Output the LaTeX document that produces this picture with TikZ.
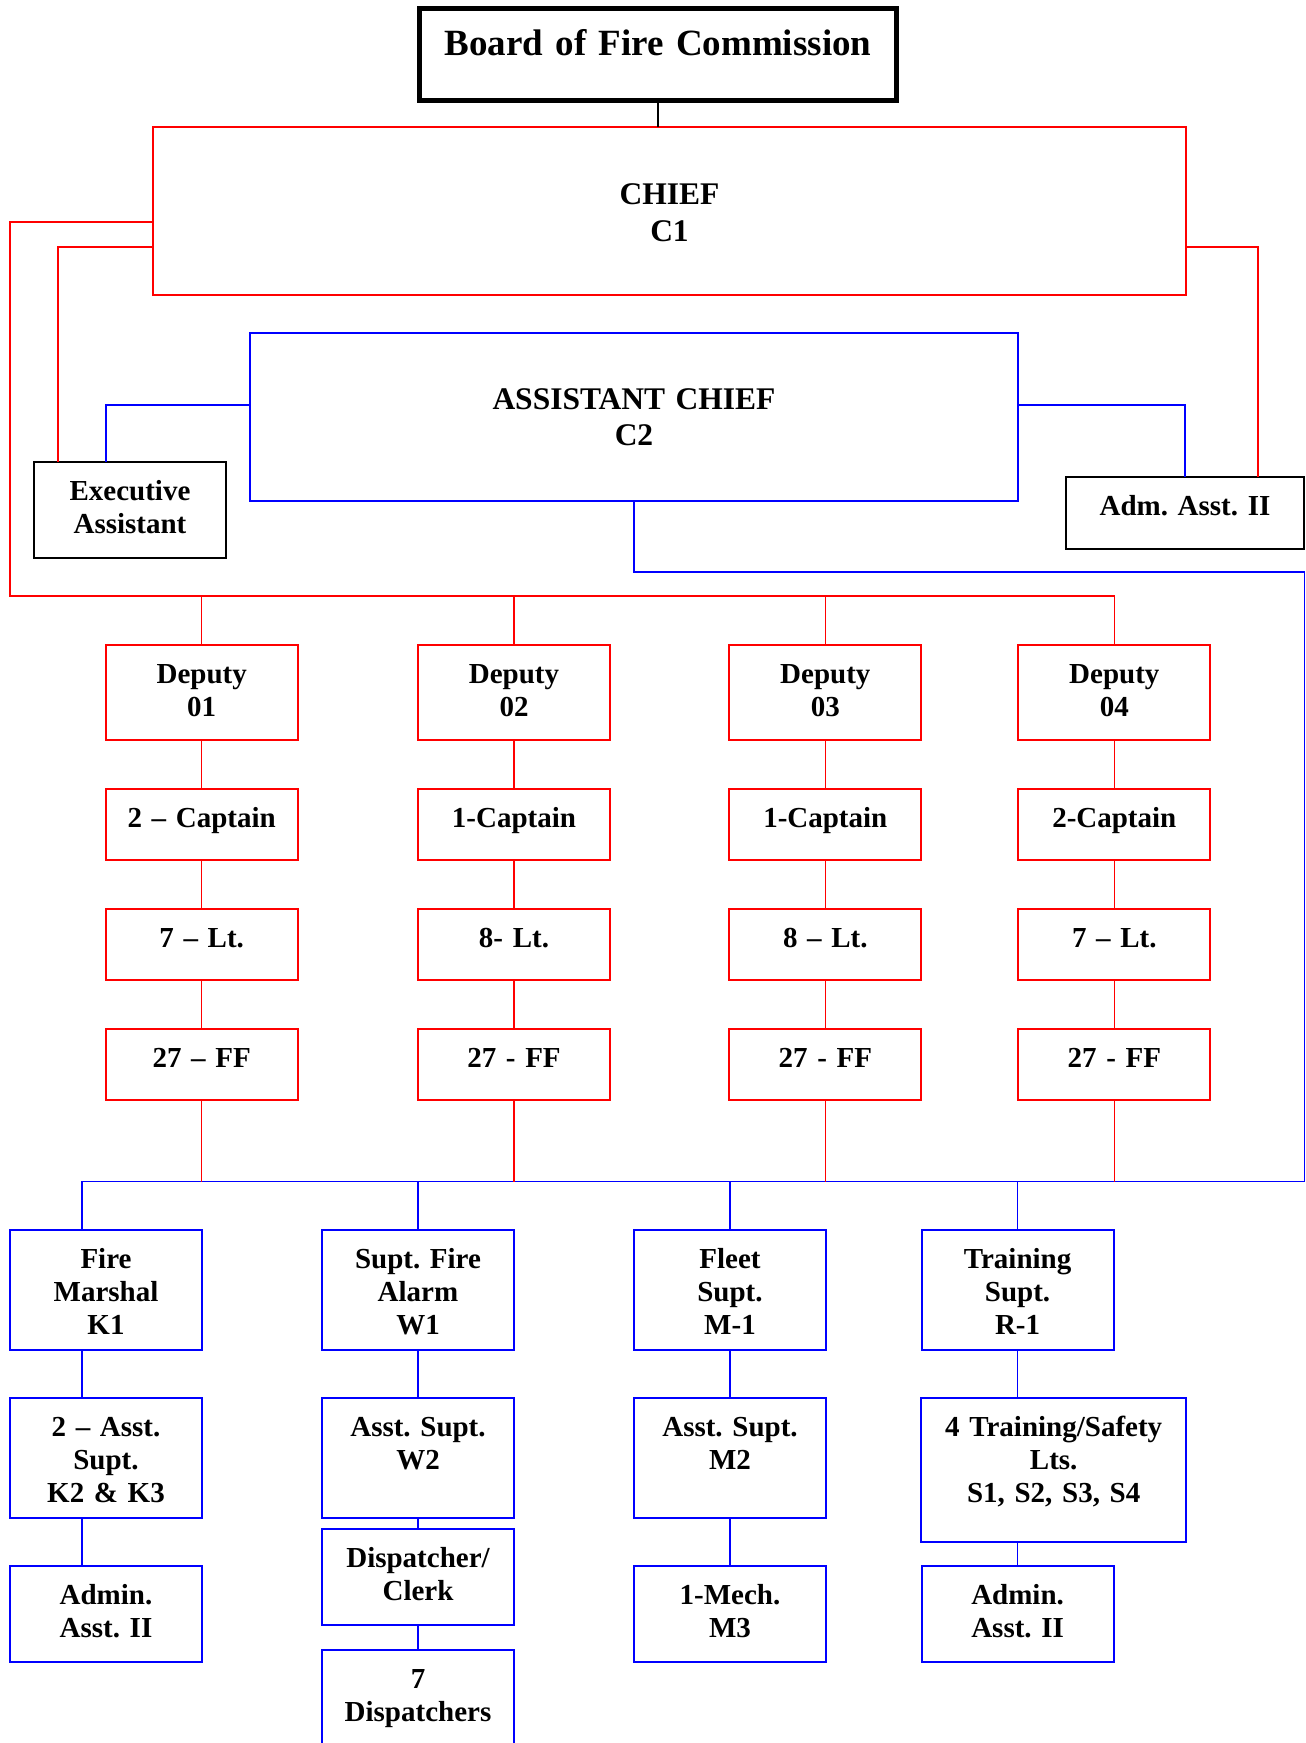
\documentclass[tikz,border=0pt]{standalone}
\usepackage{fontspec}
\setmainfont{Liberation Serif}
\frenchspacing
\newcommand{\bodyfont}{\fontsize{29}{33}\selectfont\bfseries}
\newcommand{\chieffont}{\fontsize{31.5}{36.5}\selectfont\bfseries}
\newcommand{\boardfont}{\fontsize{37}{42}\selectfont\bfseries}
\tikzset{
  box/.style={draw, inner sep=0pt, outer sep=0pt, align=center, text=black,
    line width=2pt, text height=38.5pt, font=\bodyfont},
  redbox/.style={box, draw=red},
  bluebox/.style={box, draw=blue},
  deputybox/.style={redbox, text width=192pt, text depth=57pt},
  rankbox/.style={redbox, text width=192pt, text depth=32.5pt},
  unitbox/.style={bluebox, text width=192pt, text depth=81.5pt},
  smallbox/.style={bluebox, text width=192pt, text depth=57pt},
  redline/.style={draw=red, line width=1.3pt},
  blueline/.style={draw=blue, line width=1.3pt},
}
\begin{document}
\begin{tikzpicture}[x=1pt, y=-1pt]
	\useasboundingbox (0,0) rectangle (1306,1743);
	
	% Spitze
	\node[box, line width=5pt, text width=477pt, text height=46.5pt, text depth=45.5pt, font=\boardfont] (board) at (658,54.5) {Board of Fire Commission};
	\node[redbox, text width=1033pt, text height=77.5pt, text depth=90.5pt, font=\chieffont] (chief) at (669.5,211) {CHIEF\\C1};
	\node[bluebox, text width=768pt, text height=76pt, text depth=92pt, font=\chieffont] (asst) at (634,417) {ASSISTANT CHIEF\\C2};
	\node[box, text width=192pt, text depth=57.5pt] (exec) at (130,510) {Executive\\Assistant};
	\node[box, text width=238pt, text depth=33.5pt] (adm) at (1185,513) {Adm. Asst. II};
	
	% Deputies
	\node[deputybox] (dep1) at (201.7,692.5) {Deputy\\01};
	\node[deputybox] (dep2) at (514,692.5) {Deputy\\02};
	\node[deputybox] (dep3) at (825.3,692.5) {Deputy\\03};
	\node[deputybox] (dep4) at (1114.3,692.5) {Deputy\\04};
	
	\node[rankbox] (cap1) at (201.7,824.5) {2 – Captain};
	\node[rankbox] (cap2) at (514,824.5) {1-Captain};
	\node[rankbox] (cap3) at (825.3,824.5) {1-Captain};
	\node[rankbox] (cap4) at (1114.3,824.5) {2-Captain};
	
	\node[rankbox] (lt1) at (201.7,944.5) {7 – Lt.};
	\node[rankbox] (lt2) at (514,944.5) {8- Lt.};
	\node[rankbox] (lt3) at (825.3,944.5) {8 – Lt.};
	\node[rankbox] (lt4) at (1114.3,944.5) {7 – Lt.};
	
	\node[rankbox] (ff1) at (201.7,1064.5) {27 – FF};
	\node[rankbox] (ff2) at (514,1064.5) {27 - FF};
	\node[rankbox] (ff3) at (825.3,1064.5) {27 - FF};
	\node[rankbox] (ff4) at (1114.3,1064.5) {27 - FF};
	
	% Stab
	\node[unitbox] (k1) at (106,1290.4) {Fire\\Marshal\\K1};
	\node[unitbox] (w1) at (418,1290.4) {Supt. Fire\\Alarm\\W1};
	\node[unitbox] (m1) at (730,1290.4) {Fleet\\Supt.\\M-1};
	\node[unitbox] (r1) at (1017.6,1290.4) {Training\\Supt.\\R-1};
	
	\node[unitbox] (k2) at (106,1458.3) {2 – Asst.\\Supt.\\K2 \& K3};
	\node[unitbox] (w2) at (418,1458.3) {Asst. Supt.\\W2};
	\node[unitbox] (m2) at (730,1458.3) {Asst. Supt.\\M2};
	\node[bluebox, text width=264.6pt, text depth=105pt] (train) at (1053.7,1470) {4 Training/Safety\\Lts.\\S1, S2, S3, S4};
	
	\node[smallbox] (kadm) at (106,1613.9) {Admin.\\Asst. II};
	\node[smallbox] (disp) at (418,1577.2) {Dispatcher/\\Clerk};
	\node[smallbox] (mech) at (730,1613.9) {1-Mech.\\M3};
	\node[smallbox] (radm) at (1017.6,1613.9) {Admin.\\Asst. II};
	\node[unitbox] (dispn) at (418,1709.5) {7\\Dispatchers};
	
	% Linien oben
	\coordinate (redbus) at (10,596);
	\coordinate (bluebus) at (1304.5,1181.5);
	\draw[line width=1.3pt] (board.south) -- (board.south |- chief.north);
	\draw[redline] (chief.west |- 0,222) -| (redbus) -| (dep4.north);
	\foreach \i in {1,2,3}
		\draw[redline] (dep\i.north) -- (dep\i.north |- redbus);
	\draw[redline] (chief.west |- 0,247) -| ([xshift=-72pt]exec.north);
	\draw[redline] (chief.east |- 0,247) -| ([xshift=73pt]adm.north);
	\draw[blueline] (asst.west |- 0,405) -| ([xshift=-24pt]exec.north);
	\draw[blueline] (asst.east |- 0,405) -| (adm.north);
	\draw[blueline] (asst.south) |- (1304.5,572) -- (bluebus) -| ([xshift=-24pt]k1.north);
	
	% Linien Deputies
	\foreach \i in {1,...,4}{
		\draw[redline] (dep\i) -- (cap\i) -- (lt\i) -- (ff\i);
		\draw[redline] (ff\i.south) -- (ff\i.south |- bluebus);
	}
	
	% Linien unten
	\foreach \n in {w1,m1,r1}
		\draw[blueline] (\n.north) -- (\n.north |- bluebus);
	\draw[blueline] ([xshift=-24pt]k1.south) -- ([xshift=-24pt]k2.north);
	\draw[blueline] ([xshift=-24pt]k2.south) -- ([xshift=-24pt]kadm.north);
	\draw[blueline] (w1) -- (w2) -- (disp) -- (dispn);
	\draw[blueline] (m1) -- (m2) -- (mech);
	\draw[blueline] (r1.south) -- (r1.south |- train.north);
	\draw[blueline] (radm.north) -- (radm.north |- train.south);
	
\end{tikzpicture}
\end{document}
